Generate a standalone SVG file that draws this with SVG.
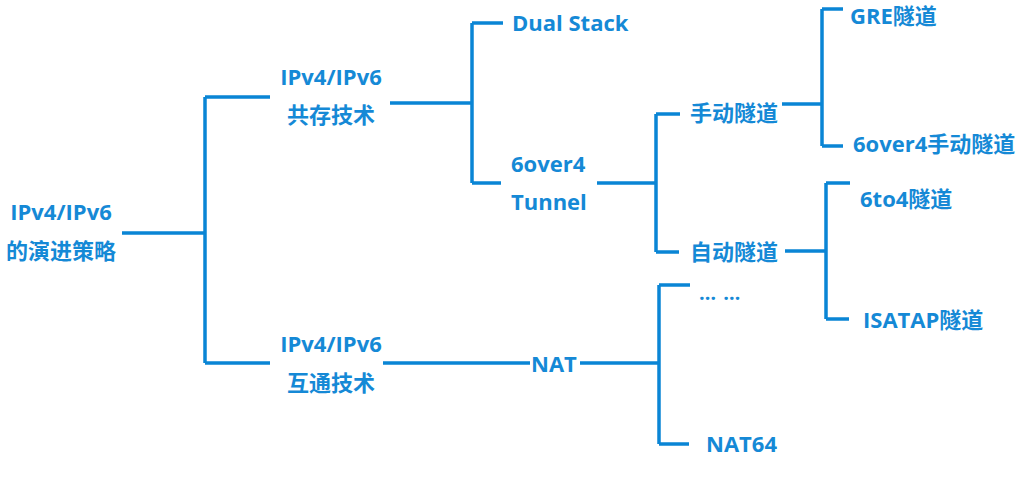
<svg xmlns="http://www.w3.org/2000/svg" width="1031" height="478" viewBox="0 0 1031 478">
<style>
.t{font-family:"Open Sans","Noto Sans CJK SC",sans-serif;font-weight:bold;font-size:22px;fill:#1589d6}
.m{text-anchor:middle}
.c path{fill:none;stroke:#0a85d5;stroke-width:3.5}
</style>
<rect width="1031" height="478" fill="#fff"/>
<g class="c" id="connectors">
<path d="M122 233H205M205 97V363M205 97H270M205 363H270"/>
<path d="M390 103H472M472 23V183M472 23H503M472 183H501"/>
<path d="M597 183H656M656 114V252M656 114H680M656 252H679"/>
<path d="M782 104H822M822 9V146M822 9H843M822 146H843"/>
<path d="M785 251H826M826 183V319M826 183H850M826 319H849"/>
<path d="M383 363H530M580 363H659M659 285V444M659 285H690M659 444H689"/>
</g>
<g id="root"><text class="t m" x="61" y="220">IPv4/IPv6</text><text class="t m" x="61" y="259">的演进策略</text></g>
<g id="coexist"><text class="t m" x="331" y="85">IPv4/IPv6</text><text class="t m" x="331" y="123">共存技术</text></g>
<g id="interop"><text class="t m" x="331" y="352">IPv4/IPv6</text><text class="t m" x="331" y="391">互通技术</text></g>
<g id="dualstack"><text class="t" x="512" y="31">Dual Stack</text></g>
<g id="tunnel"><text class="t" x="511" y="172">6over4</text><text class="t" x="511" y="210">Tunnel</text></g>
<g id="manual"><text class="t" x="690" y="121">手动隧道</text></g>
<g id="auto"><text class="t" x="690" y="260">自动隧道</text></g>
<g id="gre"><text class="t" x="850" y="24">GRE隧道</text></g>
<g id="6over4manual"><text class="t" x="853" y="152">6over4手动隧道</text></g>
<g id="6to4"><text class="t" x="860" y="207">6to4隧道</text></g>
<g id="isatap"><text class="t" x="863" y="328">ISATAP隧道</text></g>
<g id="nat"><text class="t" x="531" y="372">NAT</text></g>
<g id="etc"><text class="t" x="699" y="300" style="font-size:20px;letter-spacing:1px">… …</text></g>
<g id="nat64"><text class="t" x="706" y="452">NAT64</text></g>
</svg>
